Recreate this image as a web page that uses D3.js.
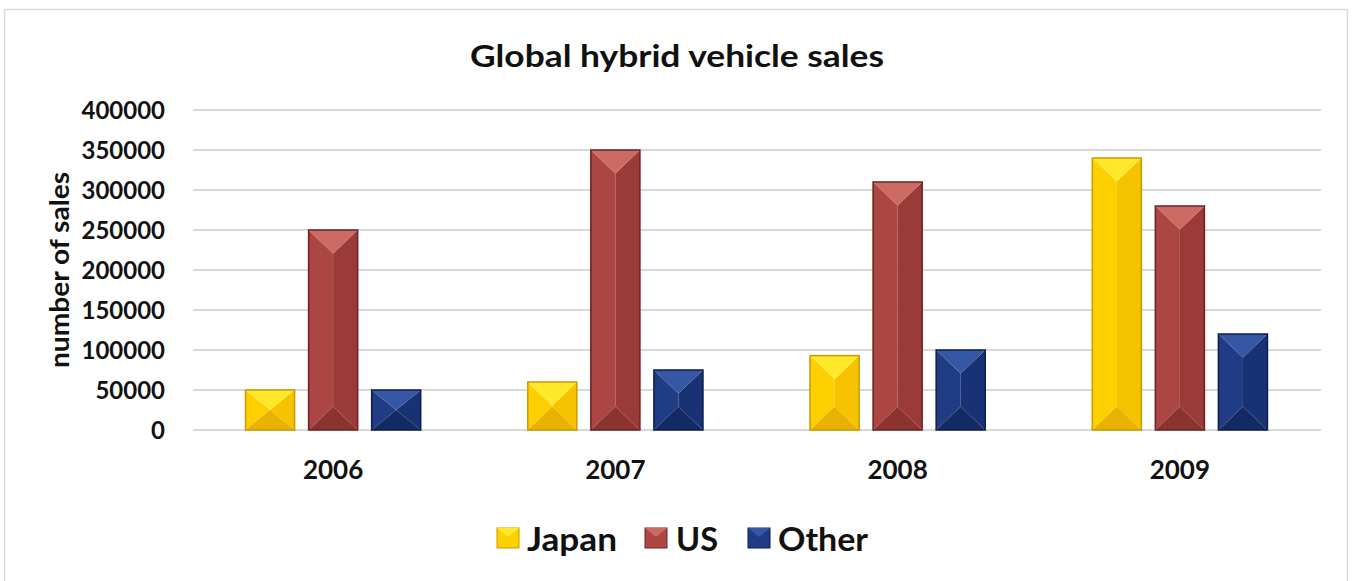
<!DOCTYPE html>
<html lang="en">
<head>
    <meta charset="UTF-8">
    <title>Global hybrid vehicle sales</title>
    <script src="https://d3js.org/d3.v7.min.js"></script>
    <style>
        body {
            margin: 0;
            background: #fff;
            font-family: Lato, "Open Sans", Arial, sans-serif;
        }
        svg text {
            font-weight: bold;
            fill: #111;
        }
    </style>
</head>
<body>
    <div id="chart"></div>

    <script>
        // data
        const years = ["2006", "2007", "2008", "2009"];
        const seriesNames = ["Japan", "US", "Other"];
        const japan = [50000, 60000, 93000, 340000];
        const us = [250000, 350000, 310000, 280000];
        const other = [50000, 75000, 100000, 120000];
        const yTicks = [0, 50000, 100000, 150000, 200000, 250000, 300000, 350000, 400000];

        const width = 1354;
        const height = 581;

        // bevel colours: top, left, right, bottom, outline
        const palette = {
            Japan: ["#ffe82a", "#ffd000", "#f7c200", "#e9b200", "#c99a00"],
            US:    ["#cc6a64", "#ac4643", "#9b3b39", "#8b3330", "#6b2220"],
            Other: ["#3656a6", "#1f3c84", "#193274", "#142a64", "#0d1d4f"]
        };

        const rows = [];
        years.forEach((yr, i) => {
            rows.push({ year: yr, series: "Japan", value: japan[i] });
            rows.push({ year: yr, series: "US", value: us[i] });
            rows.push({ year: yr, series: "Other", value: other[i] });
        });

        const svg = d3.select("#chart")
            .append("svg")
            .attr("width", width)
            .attr("height", height);

        // outer chart border
        svg.append("rect")
            .attr("x", 4.5).attr("y", 9.5)
            .attr("width", 1343).attr("height", 620)
            .attr("fill", "#fff")
            .attr("stroke", "#d9d9d9")
            .attr("stroke-width", 1.5);

        const x0 = d3.scaleBand()
            .domain(years)
            .range([192, 1321]);

        const x1 = d3.scaleBand()
            .domain(seriesNames)
            .range([0, x0.bandwidth()])
            .paddingInner(0.222)
            .paddingOuter(0.849);

        const y = d3.scaleLinear()
            .domain([0, 400000])
            .range([430, 110]);

        // gridlines
        svg.append("g")
            .selectAll("line")
            .data(yTicks)
            .enter()
            .append("line")
            .attr("x1", 193)
            .attr("x2", 1321)
            .attr("y1", d => y(d))
            .attr("y2", d => y(d))
            .attr("stroke", "#d9d9d9")
            .attr("stroke-width", 2);

        // y tick labels
        svg.append("g")
            .selectAll("text")
            .data(yTicks)
            .enter()
            .append("text")
            .attr("x", 165)
            .attr("y", d => y(d))
            .attr("dy", "0.36em")
            .attr("text-anchor", "end")
            .style("font-size", "24px")
            .text(d => d);

        // x labels
        svg.append("g")
            .selectAll("text")
            .data(years)
            .enter()
            .append("text")
            .attr("x", d => x0(d) + x0.bandwidth() / 2)
            .attr("y", 470)
            .attr("dy", "0.36em")
            .attr("text-anchor", "middle")
            .style("font-size", "26px")
            .text(d => d);

        // bevelled bars
        const bars = svg.append("g")
            .selectAll("g")
            .data(rows)
            .enter()
            .append("g");

        function bevel(d) {
            const bx = x0(d.year) + x1(d.series);
            const bw = x1.bandwidth();
            const top = y(d.value);
            const bot = y(0);
            const h = bot - top;
            const depth = Math.min(bw * 0.48, h / 2);
            const cx = bx + bw / 2;
            return {
                top: [[bx, top], [bx + bw, top], [cx, top + depth]],
                left: [[bx, top], [cx, top + depth], [cx, bot - depth], [bx, bot]],
                right: [[bx + bw, top], [bx + bw, bot], [cx, bot - depth], [cx, top + depth]],
                bottom: [[bx, bot], [cx, bot - depth], [bx + bw, bot]],
                rect: [bx, top, bw, h]
            };
        }

        const pts = p => p.map(q => q.join(",")).join(" ");

        bars.append("polygon")
            .attr("points", d => pts(bevel(d).left))
            .attr("fill", d => palette[d.series][1]);
        bars.append("polygon")
            .attr("points", d => pts(bevel(d).right))
            .attr("fill", d => palette[d.series][2]);
        bars.append("polygon")
            .attr("points", d => pts(bevel(d).bottom))
            .attr("fill", d => palette[d.series][3]);
        bars.append("polygon")
            .attr("points", d => pts(bevel(d).top))
            .attr("fill", d => palette[d.series][0]);
        bars.append("rect")
            .attr("x", d => bevel(d).rect[0])
            .attr("y", d => bevel(d).rect[1])
            .attr("width", d => bevel(d).rect[2])
            .attr("height", d => bevel(d).rect[3])
            .attr("fill", "none")
            .attr("stroke", d => palette[d.series][4])
            .attr("stroke-width", 1.5);

        // title
        svg.append("text")
            .attr("x", 677)
            .attr("y", 56)
            .attr("dy", "0.36em")
            .attr("text-anchor", "middle")
            .attr("textLength", 414)
            .attr("lengthAdjust", "spacingAndGlyphs")
            .style("font-size", "31px")
            .text("Global hybrid vehicle sales");

        // y axis title
        svg.append("text")
            .attr("transform", "translate(60,270) rotate(-90)")
            .attr("text-anchor", "middle")
            .attr("dy", "0.36em")
            .attr("textLength", 196)
            .attr("lengthAdjust", "spacingAndGlyphs")
            .style("font-size", "26px")
            .text("number of sales");

        // legend
        const legendPos = [
            { name: "Japan", sx: 497, tx: 527, w: 90 },
            { name: "US", sx: 645, tx: 676, w: 42 },
            { name: "Other", sx: 748, tx: 778, w: 90 }
        ];
        const lg = svg.append("g")
            .selectAll("g")
            .data(legendPos)
            .enter()
            .append("g");
        lg.append("rect")
            .attr("x", d => d.sx)
            .attr("y", 528)
            .attr("width", 22)
            .attr("height", 20)
            .attr("fill", d => palette[d.name][1])
            .attr("stroke", d => palette[d.name][4])
            .attr("stroke-width", 1);
        lg.append("polygon")
            .attr("points", d => `${d.sx},528 ${d.sx + 22},528 ${d.sx + 11},537`)
            .attr("fill", d => palette[d.name][0]);
        lg.append("text")
            .attr("x", d => d.tx)
            .attr("y", 539)
            .attr("dy", "0.36em")
            .attr("textLength", d => d.w)
            .attr("lengthAdjust", "spacingAndGlyphs")
            .style("font-size", "32px")
            .text(d => d.name);
    </script>
</body>
</html>
